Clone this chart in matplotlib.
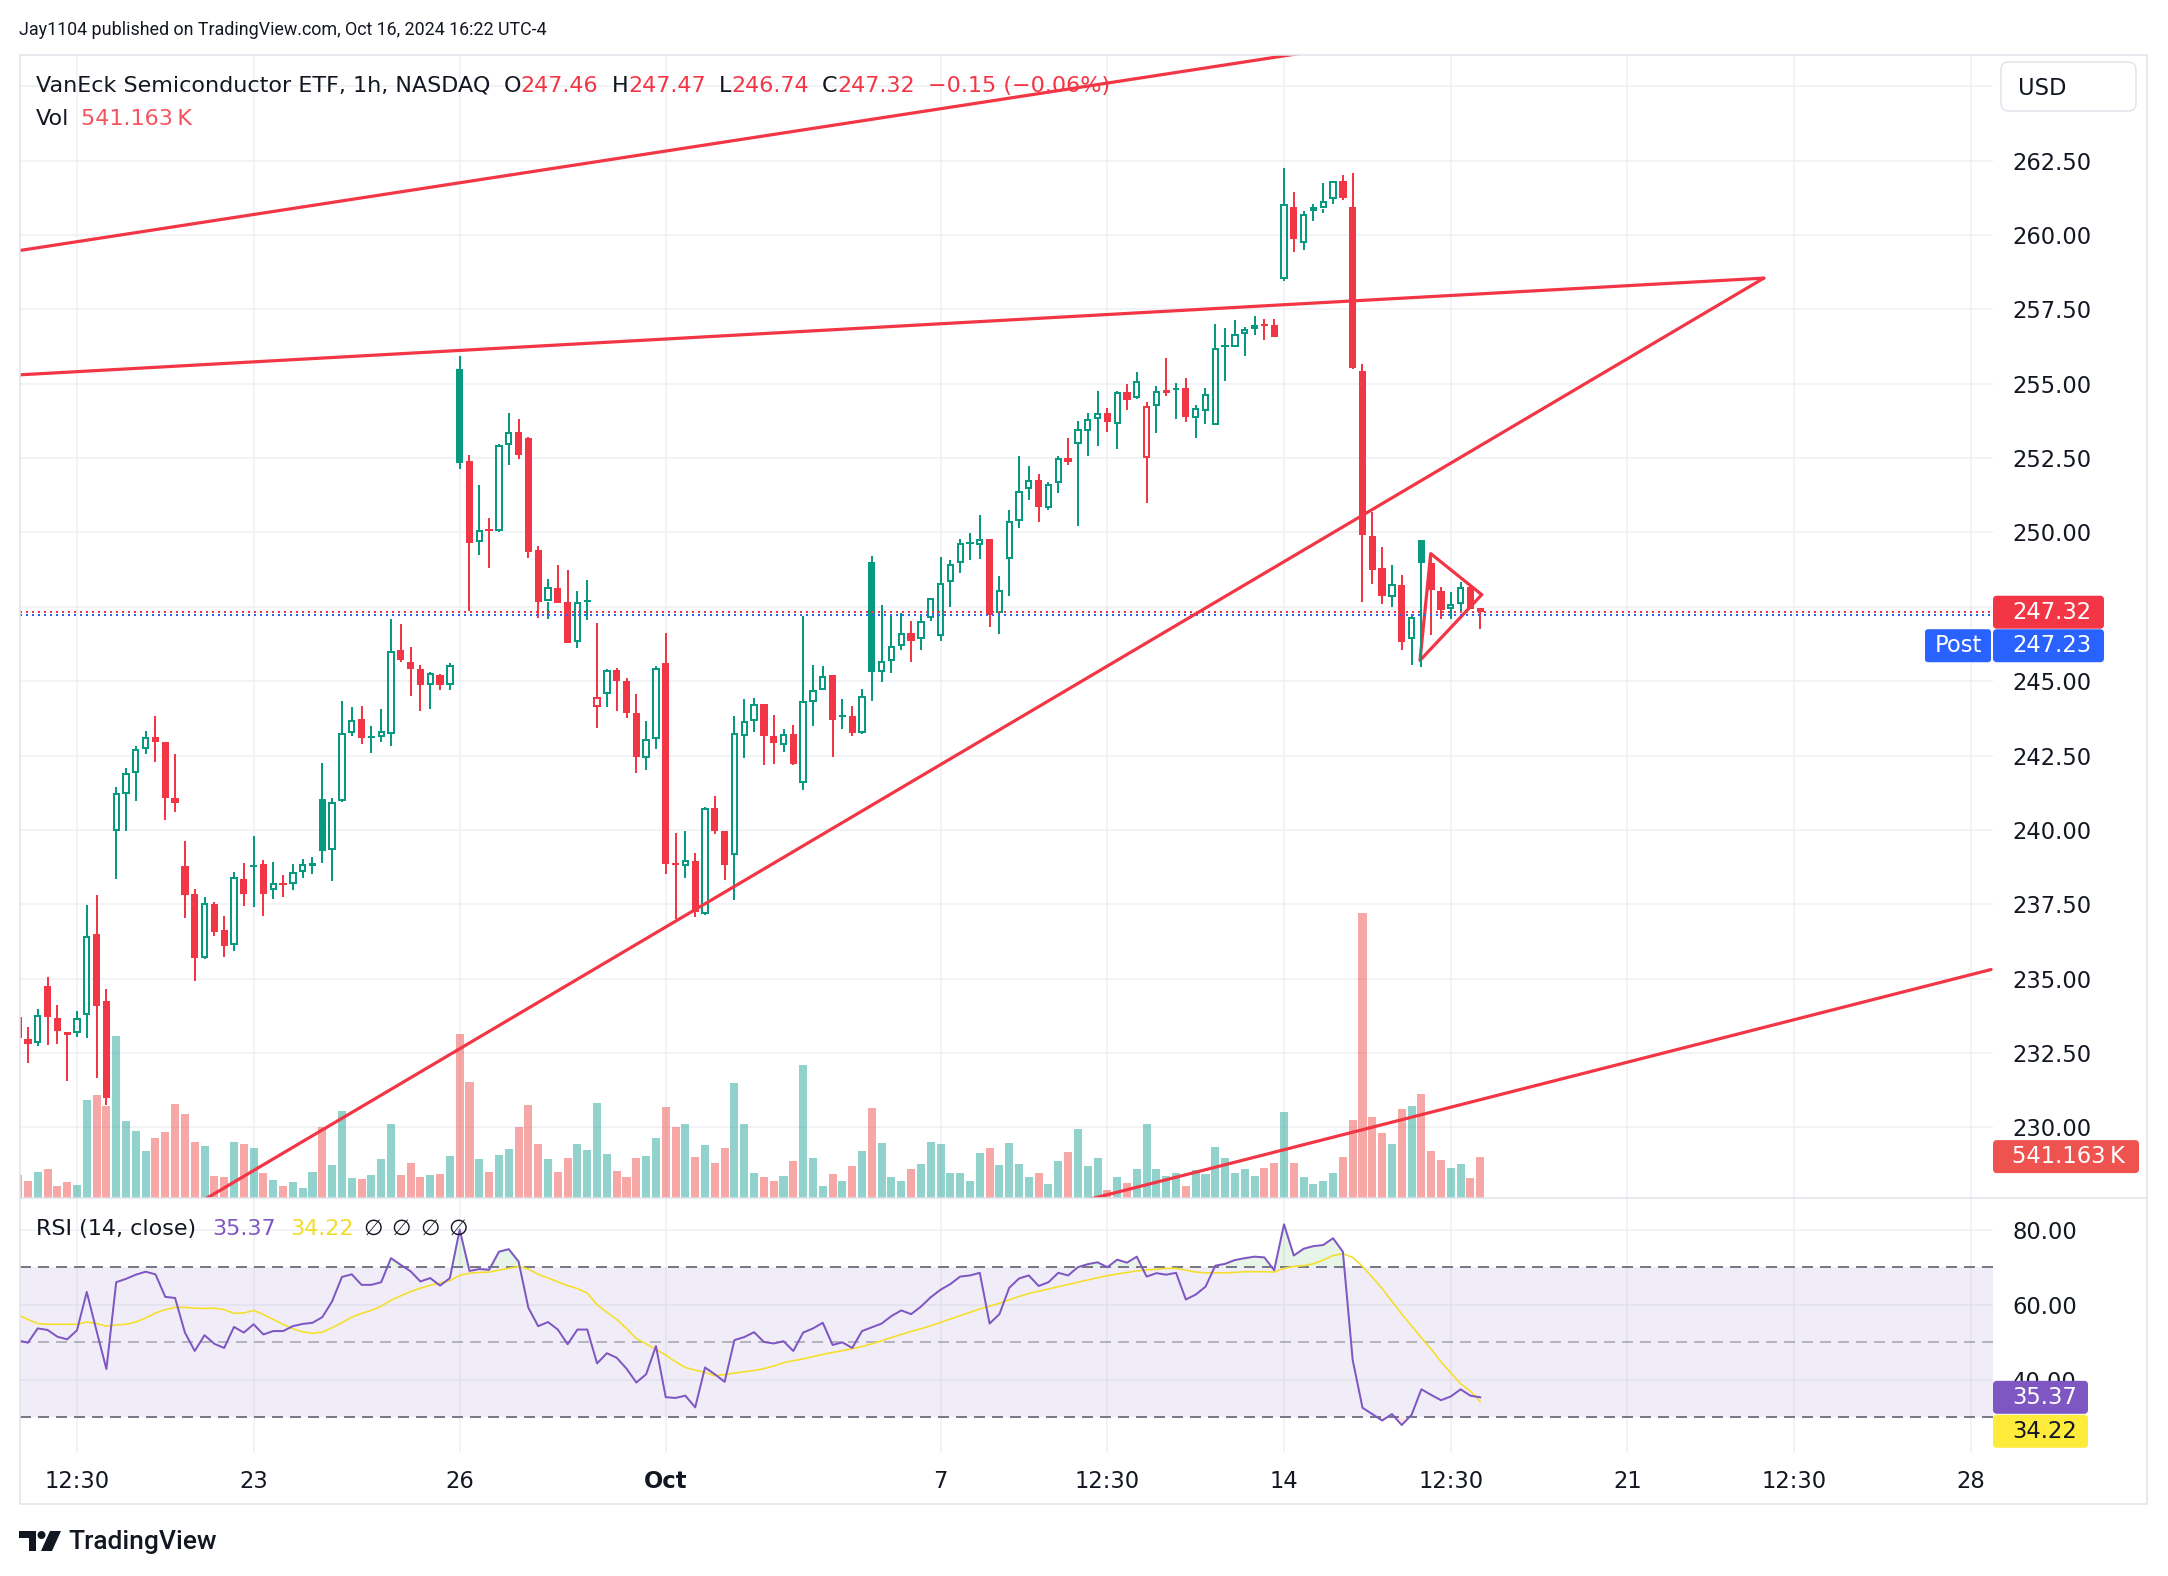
import matplotlib.pyplot as plt
from matplotlib.patches import Rectangle, FancyBboxPatch, Polygon, Circle
from matplotlib.lines import Line2D
from matplotlib.transforms import Affine2D, blended_transform_factory

plt.rcParams['font.family'] = ['DejaVu Sans']

# SMH 1h bars, index -1 = Sep 17 13:30 ... 148 = Oct 16 15:30 (7 bars per session)
bars = list(range(-1, 149))
opens = [
    233.70, 232.97, 232.83, 234.76, 233.67, 233.21, 233.19, 233.79, 236.51, 234.25,
    239.97, 241.21, 241.91, 242.73, 243.14, 242.97, 241.08, 238.79, 237.85, 235.70,
    237.50, 236.64, 236.13, 238.35, 238.79, 238.86, 237.97, 238.20, 238.17, 238.59,
    238.82, 241.05, 239.33, 240.98, 243.26, 243.74, 243.10, 243.13, 243.24, 246.04,
    245.66, 245.41, 244.89, 245.20, 244.89, 255.49, 252.39, 249.67, 250.12, 250.06,
    252.94, 253.39, 253.16, 249.40, 247.68, 248.12, 247.65, 246.31, 247.69, 244.15,
    244.57, 245.37, 245.00, 243.93, 242.43, 243.07, 245.61, 238.88, 238.78, 238.95,
    237.19, 240.73, 239.98, 239.17, 243.17, 243.67, 244.23, 243.17, 242.86, 243.22,
    241.57, 244.29, 244.69, 245.22, 243.81, 243.83, 243.27, 249.01, 245.31, 245.67,
    246.19, 246.61, 246.41, 247.12, 246.53, 248.32, 248.99, 249.63, 249.57, 249.77,
    247.31, 249.12, 250.39, 251.47, 251.78, 250.83, 251.66, 252.52, 252.99, 253.40,
    253.80, 254.00, 253.64, 254.71, 254.53, 252.51, 254.26, 254.73, 254.78, 254.84,
    253.86, 254.08, 253.60, 256.26, 256.24, 256.67, 256.84, 256.99, 256.97, 258.52,
    260.93, 259.72, 260.80, 260.89, 261.20, 261.83, 260.95, 255.43, 249.87, 248.79,
    247.84, 248.22, 246.42, 249.75, 248.98, 248.02, 247.42, 247.59, 248.16, 247.46,
]
highs = [
    233.95, 233.38, 233.97, 235.07, 234.13, 233.21, 233.90, 237.47, 237.82, 234.66,
    241.43, 242.07, 242.83, 243.34, 243.84, 242.97, 242.56, 239.63, 238.00, 237.75,
    237.58, 237.11, 238.59, 238.89, 239.80, 238.99, 238.93, 238.48, 238.85, 239.04,
    239.10, 242.26, 241.07, 244.35, 244.12, 244.16, 243.48, 244.06, 247.08, 246.92,
    246.15, 245.54, 245.30, 245.24, 245.60, 255.94, 252.62, 251.61, 250.50, 252.98,
    254.01, 253.80, 253.20, 249.54, 248.42, 248.90, 248.75, 248.03, 248.40, 246.97,
    245.40, 245.43, 245.12, 244.57, 243.67, 245.50, 246.61, 239.91, 239.98, 239.23,
    240.78, 241.15, 239.98, 243.83, 244.41, 244.45, 244.23, 243.87, 243.39, 243.52,
    247.18, 245.55, 245.51, 245.22, 244.41, 244.17, 244.75, 249.22, 247.55, 247.21,
    247.31, 247.01, 247.21, 247.79, 249.17, 249.07, 249.77, 249.97, 250.58, 249.77,
    248.54, 250.77, 252.56, 252.23, 251.98, 251.70, 252.56, 253.18, 253.74, 254.03,
    254.75, 254.19, 254.76, 254.98, 255.39, 254.37, 254.93, 255.85, 255.04, 255.18,
    254.30, 254.84, 257.01, 256.89, 257.14, 256.90, 257.28, 257.16, 257.16, 262.25,
    261.44, 260.80, 261.05, 261.74, 261.83, 262.03, 262.08, 255.66, 250.69, 249.50,
    248.90, 248.56, 247.27, 249.75, 249.13, 248.16, 247.99, 248.33, 248.22, 247.47,
]
lows = [
    232.90, 232.18, 232.73, 232.76, 232.80, 231.57, 233.04, 233.01, 231.66, 230.77,
    238.34, 239.95, 240.98, 242.54, 242.27, 240.35, 240.62, 237.05, 234.92, 235.65,
    236.43, 235.74, 235.93, 237.44, 237.42, 237.11, 237.69, 237.76, 237.97, 238.40,
    238.53, 238.90, 238.28, 240.95, 243.16, 242.88, 242.58, 242.97, 242.81, 245.66,
    244.51, 243.99, 244.08, 244.70, 244.70, 252.12, 247.36, 249.26, 248.81, 250.00,
    252.26, 252.47, 249.13, 247.13, 247.10, 247.64, 246.29, 246.13, 247.06, 243.44,
    244.15, 243.99, 243.78, 241.90, 242.00, 242.71, 238.51, 237.00, 238.39, 237.07,
    237.13, 239.86, 238.33, 237.64, 242.41, 243.31, 242.20, 242.23, 242.62, 242.17,
    241.36, 243.49, 244.69, 242.47, 243.41, 243.15, 243.21, 244.35, 244.99, 245.27,
    246.05, 245.65, 246.05, 247.01, 246.35, 247.51, 248.65, 249.07, 249.12, 246.81,
    246.58, 247.88, 250.15, 251.10, 250.35, 250.77, 251.33, 252.28, 250.22, 252.56,
    252.91, 253.38, 252.82, 254.13, 254.50, 251.00, 253.35, 254.58, 253.80, 253.72,
    253.19, 253.64, 253.60, 255.10, 256.22, 255.94, 256.64, 256.47, 256.58, 258.45,
    259.44, 259.49, 260.46, 260.75, 261.03, 261.17, 255.51, 247.67, 248.27, 247.61,
    247.50, 246.05, 245.54, 245.48, 246.57, 247.08, 247.08, 247.36, 247.42, 246.74,
]
closes = [
    233.01, 232.80, 233.79, 233.70, 233.26, 233.12, 233.67, 236.44, 234.08, 230.98,
    241.25, 241.91, 242.71, 243.13, 242.95, 241.06, 240.92, 237.83, 235.70, 237.53,
    236.58, 236.11, 238.43, 237.86, 238.82, 237.86, 238.21, 238.19, 238.60, 238.84,
    238.86, 239.31, 240.94, 243.25, 243.71, 243.10, 243.13, 243.34, 246.02, 245.73,
    245.41, 244.89, 245.27, 244.89, 245.56, 252.34, 249.64, 250.09, 250.06, 252.94,
    253.37, 252.60, 249.35, 247.65, 248.17, 247.64, 246.29, 247.67, 247.72, 244.48,
    245.37, 245.00, 243.93, 242.45, 243.07, 245.43, 238.87, 238.86, 238.99, 237.25,
    240.75, 239.98, 238.84, 243.25, 243.67, 244.23, 243.15, 242.91, 243.21, 242.23,
    244.35, 244.69, 245.17, 243.69, 243.85, 243.25, 244.49, 245.31, 245.69, 246.19,
    246.61, 246.35, 247.03, 247.79, 248.29, 248.93, 249.64, 249.66, 249.79, 247.23,
    248.08, 250.39, 251.40, 251.75, 250.86, 251.64, 252.52, 252.37, 253.49, 253.80,
    254.00, 253.70, 254.73, 254.47, 255.10, 254.26, 254.76, 254.75, 254.86, 253.89,
    254.19, 254.65, 256.21, 256.28, 256.66, 256.84, 256.99, 256.98, 256.58, 261.03,
    259.86, 260.71, 260.94, 261.14, 261.83, 261.26, 255.54, 249.90, 248.73, 247.88,
    248.27, 246.32, 247.16, 248.98, 248.07, 247.40, 247.61, 248.18, 247.42, 247.32,
]
volume_k = [
    299, 218, 336, 379, 159, 208, 176, 1281, 1350, 1200,
    2123, 1003, 880, 613, 784, 864, 1227, 1099, 736, 677,
    293, 272, 736, 705, 651, 325, 235, 159, 213, 133,
    341, 933, 433, 1136, 267, 246, 299, 507, 966, 299,
    459, 272, 299, 320, 549, 2140, 1515, 507, 346, 561,
    641, 928, 1217, 705, 507, 346, 523, 705, 625, 1243,
    576, 352, 277, 523, 549, 784, 1190, 928, 966, 539,
    694, 464, 659, 1506, 969, 322, 268, 216, 292, 478,
    1739, 525, 163, 310, 222, 420, 618, 1173, 718, 280,
    227, 374, 438, 736, 701, 322, 327, 227, 583, 648,
    426, 718, 450, 268, 322, 187, 490, 607, 899, 414,
    525, 105, 280, 199, 374, 963, 373, 290, 329, 159,
    362, 314, 663, 518, 329, 373, 290, 387, 459, 1127,
    459, 276, 179, 217, 324, 532, 1025, 3728, 1064, 856,
    701, 1161, 1209, 1363, 620, 493, 387, 450, 256, 541.163,
]
rsi = [
    50.5, 49.9, 53.7, 53.3, 51.5, 50.8, 53.2, 63.4, 53.0, 42.9,
    66.0, 66.9, 68.0, 68.8, 68.1, 62.1, 61.8, 52.6, 47.7, 51.9,
    49.6, 48.5, 54.1, 52.6, 54.8, 52.1, 53.0, 53.0, 54.3, 54.9,
    55.2, 56.7, 60.9, 67.4, 68.1, 65.3, 65.3, 66.0, 72.4, 70.6,
    68.9, 66.2, 67.1, 65.1, 67.1, 80.0, 69.0, 69.5, 69.3, 74.1,
    74.8, 71.5, 59.2, 54.3, 55.4, 53.4, 49.5, 53.4, 53.4, 44.4,
    47.1, 45.9, 43.0, 39.3, 41.5, 49.0, 35.4, 35.2, 35.8, 32.7,
    43.3, 41.5, 39.5, 50.6, 51.4, 52.7, 50.1, 49.7, 50.3, 47.7,
    52.6, 53.7, 55.2, 49.3, 50.0, 48.5, 53.0, 54.0, 55.0, 57.0,
    58.5, 57.5, 59.5, 62.0, 64.0, 65.5, 67.5, 67.8, 68.5, 55.0,
    57.5, 64.5, 67.0, 67.8, 65.0, 66.0, 68.5, 67.8, 70.0, 70.8,
    71.3, 70.0, 72.0, 71.2, 72.8, 67.5, 68.4, 68.0, 68.5, 61.4,
    62.7, 64.8, 70.4, 70.9, 71.9, 72.4, 72.8, 72.6, 69.2, 81.4,
    73.1, 74.9, 75.6, 75.9, 77.7, 74.1, 45.3, 32.6, 30.9, 29.2,
    30.9, 28.0, 30.7, 37.5, 36.0, 34.6, 35.6, 37.5, 35.8, 35.37,
]
rsi_ma = [
    57.3, 56.1, 55.0, 54.8, 54.8, 54.8, 54.8, 55.4, 55.0, 54.3,
    54.6, 54.8, 55.4, 56.5, 57.8, 58.7, 59.3, 59.3, 59.1, 59.0,
    59.1, 58.7, 57.7, 57.8, 58.5, 57.4, 56.1, 54.8, 53.6, 52.8,
    52.4, 52.7, 53.9, 55.2, 56.7, 57.7, 58.5, 59.6, 61.2, 62.4,
    63.5, 64.4, 65.2, 65.8, 66.4, 67.8, 68.4, 68.6, 68.7, 69.2,
    69.7, 70.2, 69.5, 68.1, 67.1, 66.1, 65.1, 64.3, 63.1, 60.0,
    58.0, 56.1, 53.7, 51.0, 49.6, 48.1, 46.6, 44.8, 43.3, 42.6,
    42.0, 41.1, 41.4, 41.8, 42.2, 42.5, 43.0, 43.7, 44.6, 45.1,
    45.6, 46.2, 46.8, 47.3, 47.8, 48.3, 48.9, 49.6, 50.4, 51.3,
    52.1, 52.9, 53.6, 54.4, 55.3, 56.2, 57.1, 58.0, 58.9, 59.6,
    60.4, 61.3, 62.2, 63.0, 63.6, 64.2, 64.8, 65.4, 66.0, 66.6,
    67.2, 67.7, 68.2, 68.6, 69.0, 69.3, 69.4, 69.7, 69.7, 69.2,
    68.7, 68.5, 68.5, 68.5, 68.6, 68.8, 68.8, 68.8, 68.7, 69.7,
    70.2, 70.4, 70.9, 71.9, 73.1, 73.6, 72.6, 70.2, 67.3, 64.3,
    60.9, 57.5, 54.4, 51.2, 48.2, 44.8, 41.9, 39.0, 37.0, 34.22,
]

time_ticks = [5, 23, 44, 65, 93, 110, 128, 145, 163, 180, 198]
time_labels = ["12:30", "23", "26", "Oct", "7", "12:30", "14", "12:30", "21", "12:30", "28"]
price_ticks = [230.0, 232.5, 235.0, 237.5, 240.0, 242.5, 245.0, 247.5,
               250.0, 252.5, 255.0, 257.5, 260.0, 262.5, 265.0]
hidden_price_labels = [247.5, 265.0]   # covered by the price tag / currency box
rsi_ticks = [40, 60, 80]

# user drawings: (bar index, price)
trend_lines = [
    [(-0.8, 259.48), (140.0, 266.63)],
    [(-0.8, 255.30), (176.9, 258.55)],
    [(10.0, 226.02), (176.9, 258.55)],
    [(105.0, 227.32), (200.05, 235.31)],
]
pennant = [(142.95, 249.29), (148.15, 247.91), (141.86, 245.70)]

last_price = 247.32
post_price = 247.23

DARK = '#131722'
GREEN = '#089981'
RED = '#F23645'
BLUE = '#2962FF'
PURPLE = '#7E57C2'
YELLOW = '#FFEB3B'
GRID = '#EEF0F4'
BORDER = '#E0E3EB'
FS = 16.3

W, H = 2168, 1576
fig = plt.figure(figsize=(W / 100, H / 100), dpi=100)
fig.patch.set_facecolor('white')
# pixel coordinates, origin at top-left
px = Affine2D().scale(1.0 / W, -1.0 / H).translate(0, 1) + fig.transFigure


def rect(x0, y0, x1, y1):
    return [x0 / W, 1 - y1 / H, (x1 - x0) / W, (y1 - y0) / H]


main_rect = rect(20, 55, 1993, 1198)
rsi_rect = rect(20, 1198, 1993, 1453)

ax_bg = fig.add_axes(main_rect, zorder=0)
ax_vol = fig.add_axes(main_rect, zorder=1, sharex=ax_bg)
ax = fig.add_axes(main_rect, zorder=2, sharex=ax_bg, sharey=ax_bg)
ax_rsi = fig.add_axes(rsi_rect, zorder=0, sharex=ax_bg)

ax_bg.set_xlim(-0.805, 200.25)
ax_bg.set_ylim(227.63, 266.05)
ax_bg.set_xticks(time_ticks)
ax_bg.set_yticks(price_ticks)
ax_bg.set_yticklabels(["" if p in hidden_price_labels else f"{p:.2f}" for p in price_ticks])
ax_bg.yaxis.tick_right()
ax_bg.tick_params(axis='y', length=0, pad=13.7, labelsize=FS, labelcolor=DARK)
ax_bg.tick_params(axis='x', length=0, labelbottom=False)
ax_bg.grid(True, color=GRID, lw=1.1)
for s in ax_bg.spines.values():
    s.set_visible(False)

# volume overlay
vol_top = 541.163 * 1143 / 41.4
ax_vol.set_ylim(0, vol_top)
ax_vol.axis('off')
ax_vol.patch.set_visible(False)
vcols = ['#26A69A' if c >= o else '#EF5350' for o, c in zip(opens, closes)]
ax_vol.bar(bars, volume_k, width=0.82, color=vcols, alpha=0.5, linewidth=0)

# candles (hollow style)
ax.axis('off')
ax.patch.set_visible(False)
for k, (b, o, h, l, c) in enumerate(zip(bars, opens, highs, lows, closes)):
    prev = closes[k - 1] if k > 0 else o
    col = GREEN if c >= prev else RED
    top, bot = max(o, c), min(o, c)
    if c - o > 0.08:
        ax.plot([b, b], [top, h], color=col, lw=1.44, solid_capstyle='butt')
        ax.plot([b, b], [l, bot], color=col, lw=1.44, solid_capstyle='butt')
        ax.add_patch(Rectangle((b - 0.27, bot + 0.034), 0.54, top - bot - 0.067,
                               fill=False, ec=col, lw=1.44, joinstyle='miter'))
    else:
        ax.plot([b, b], [l, h], color=col, lw=1.44, solid_capstyle='butt')
        hgt = max(top - bot, 0.07)
        mid = (top + bot) / 2
        ax.add_patch(Rectangle((b - 0.37, mid - hgt / 2), 0.74, hgt, fc=col, ec='none'))

# last price / post-market lines
ax.axhline(last_price, color=RED, lw=1.44, linestyle=(0, (1, 2)))
ax.axhline(post_price, color=BLUE, lw=1.44, linestyle=(0, (1, 2)))

# drawings
for (x0, y0), (x1, y1) in trend_lines:
    ax.plot([x0, x1], [y0, y1], color=RED, lw=2.3, solid_capstyle='round')
ax.add_patch(Polygon(pennant, closed=True, fill=False, ec=RED, lw=2.3, joinstyle='round'))

# RSI pane
ax_rsi.set_ylim(20.55, 88.41)
ax_rsi.set_yticks(rsi_ticks)
ax_rsi.set_yticklabels([f"{v:.2f}" for v in rsi_ticks])
ax_rsi.yaxis.tick_right()
ax_rsi.tick_params(axis='y', length=0, pad=13.7, labelsize=FS, labelcolor=DARK)
ax_rsi.tick_params(axis='x', length=0, labelbottom=False)
ax_rsi.grid(True, color=GRID, lw=1.1)
ax_rsi.set_axisbelow(True)
for s in ax_rsi.spines.values():
    s.set_visible(False)
ax_rsi.axhspan(30, 70, color=PURPLE, alpha=0.1, lw=0)
ax_rsi.axhline(70, color='#787B86', lw=1.44, dashes=(5.5, 3.5))
ax_rsi.axhline(30, color='#787B86', lw=1.44, dashes=(5.5, 3.5))
ax_rsi.axhline(50, color='#787B86', alpha=0.5, lw=1.44, dashes=(5.5, 3.5))
ax_rsi.fill_between(bars, rsi, 70, where=[r > 70 for r in rsi], interpolate=True,
                    color='#4CAF50', alpha=0.13, lw=0)
ax_rsi.fill_between(bars, rsi, 30, where=[r < 30 for r in rsi], interpolate=True,
                    color=RED, alpha=0.13, lw=0)
ax_rsi.plot(bars, rsi_ma, color='#F5DF2E', lw=1.2)
ax_rsi.plot(bars, rsi, color=PURPLE, lw=1.44)

# time axis labels
ttr = blended_transform_factory(ax_rsi.transData, px)
for t, lab in zip(time_ticks, time_labels):
    ax_rsi.text(t, 1481.5, lab, transform=ttr, ha='center', va='center', fontsize=FS,
                color=DARK, fontweight='bold' if lab == 'Oct' else 'normal', clip_on=False)

# frame and pane separator
fig.patches.append(Rectangle((20, 55), 2127, 1449, transform=px, fill=False,
                             ec=BORDER, lw=1.1, zorder=9))
fig.add_artist(Line2D([20, 2147], [1198, 1198], transform=px, color=BORDER, lw=1.1, zorder=9))


def y_px(axis, val):
    return H - axis.transData.transform((0, val))[1]


def tag(yc, x1, fc, text, tc, x0=1993, h=33):
    fig.patches.append(FancyBboxPatch((x0, yc - h / 2), x1 - x0, h,
                                      boxstyle='round,pad=0,rounding_size=4',
                                      transform=px, fc=fc, ec='none', zorder=10))
    fig.text(2012, yc, text, transform=px, ha='left', va='center', color=tc,
             fontsize=FS, zorder=11)


y_last = y_px(ax_bg, last_price)
tag(y_last, 2104, RED, f"{last_price:.2f}", 'white')
tag(y_last + 33.5, 2104, BLUE, f"{post_price:.2f}", 'white')
fig.patches.append(FancyBboxPatch((1925, y_last + 33.5 - 16.5), 66, 33,
                                  boxstyle='round,pad=0,rounding_size=3',
                                  transform=px, fc=BLUE, ec='none', zorder=10))
fig.text(1958, y_last + 33.5, "Post", transform=px, ha='center', va='center',
         color='white', fontsize=FS, zorder=11)
tag(y_px(ax_vol, volume_k[-1]), 2139, '#EF5350', "541.163\u202fK", 'white')
y_r = y_px(ax_rsi, rsi[-1])
tag(y_r, 2088, PURPLE, f"{rsi[-1]:.2f}", 'white')
tag(y_r + 34, 2088, YELLOW, f"{rsi_ma[-1]:.2f}", DARK)

# currency box
fig.patches.append(FancyBboxPatch((2001, 62), 135, 49, boxstyle='round,pad=0,rounding_size=8',
                                  transform=px, fc='white', ec=BORDER, lw=1.1, zorder=10))
fig.text(2018, 88.5, "USD", transform=px, ha='left', va='center', color=DARK,
         fontsize=FS, zorder=11)

renderer = fig.canvas.get_renderer()


def text_row(x, y, parts, size=FS):
    for s, col, gap in parts:
        t = fig.text(x, y, s, transform=px, color=col, va='center', ha='left',
                     fontsize=size, zorder=12, family=['DejaVu Sans'])
        x += t.get_window_extent(renderer).width + gap


text_row(36, 86, [
    ("VanEck Semiconductor ETF, 1h, NASDAQ", DARK, 13),
    ("O", DARK, 0), ("247.46", RED, 13),
    ("H", DARK, 0), ("247.47", RED, 13),
    ("L", DARK, 0), ("246.74", RED, 13),
    ("C", DARK, 0), ("247.32", RED, 13),
    ("\u22120.15 (\u22120.06%)", RED, 0),
], size=16.0)
text_row(36, 119, [("Vol", DARK, 12), ("541.163\u202fK", '#F7525F', 0)], size=16.0)
text_row(36, 1229, [
    ("RSI (14, close)", DARK, 16),
    (f"{rsi[-1]:.2f}", PURPLE, 14),
    (f"{rsi_ma[-1]:.2f}", '#F2DC2B', 10),
    ("\u2205", DARK, 9), ("\u2205", DARK, 9), ("\u2205", DARK, 9), ("\u2205", DARK, 0),
], size=16.0)

# publisher header and footer
fig.text(19, 30, "Jay1104 published on TradingView.com, Oct 16, 2024 16:22 UTC-4",
         transform=px, ha='left', va='center', color=DARK, fontsize=12.9,
         family=['Roboto', 'DejaVu Sans'])
fig.patches.append(Polygon([(19, 1531), (36, 1531), (36, 1551), (29, 1551), (29, 1538), (19, 1538)],
                           closed=True, transform=px, fc=DARK, ec='none'))
fig.patches.append(Circle((41.5, 1535), 4, transform=px, fc=DARK, ec='none'))
fig.patches.append(Polygon([(50, 1531), (61, 1531), (52, 1551), (41, 1551)],
                           closed=True, transform=px, fc=DARK, ec='none'))
fig.text(68, 1542, "TradingView", transform=px, ha='left', va='center', color=DARK,
         fontsize=19, fontweight='medium', family=['Roboto', 'DejaVu Sans'])

fig.savefig('out.png', dpi=100, facecolor='white')
